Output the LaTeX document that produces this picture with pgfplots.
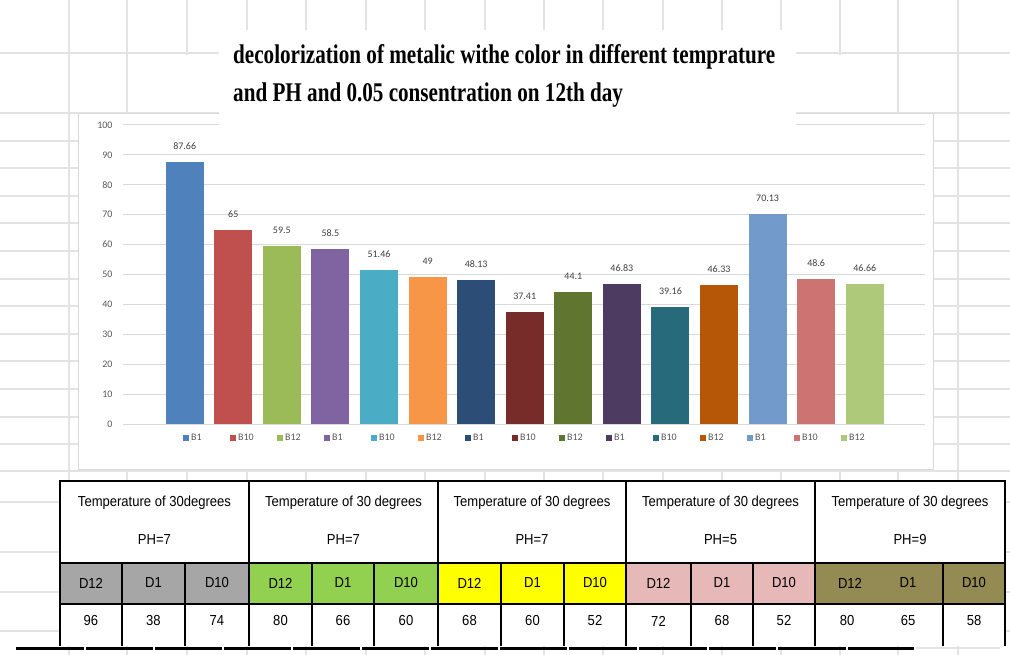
\documentclass[border=0pt]{standalone}
\usepackage{pgfplots}
\pgfplotsset{compat=1.18}
\usepackage{graphicx}
\usepackage{fontspec}
\setmainfont{Liberation Sans}
\newfontfamily\carlito{Carlito}
\newfontfamily\timesf{Liberation Serif}
\definecolor{c1}{HTML}{4F81BD}
\definecolor{c2}{HTML}{C0504D}
\definecolor{c3}{HTML}{9BBB59}
\definecolor{c4}{HTML}{8064A2}
\definecolor{c5}{HTML}{4BACC6}
\definecolor{c6}{HTML}{F79646}
\definecolor{c7}{HTML}{2C4D75}
\definecolor{c8}{HTML}{772C2A}
\definecolor{c9}{HTML}{5F7530}
\definecolor{c10}{HTML}{4D3B62}
\definecolor{c11}{HTML}{276A7C}
\definecolor{c12}{HTML}{B65708}
\definecolor{c13}{HTML}{729ACA}
\definecolor{c14}{HTML}{CD7371}
\definecolor{c15}{HTML}{AFC97A}
\definecolor{sheetgrid}{HTML}{E3E3E3}
\definecolor{gridc}{HTML}{D9D9D9}
\definecolor{tickc}{HTML}{595959}
\definecolor{labc}{HTML}{404040}
\definecolor{tgray}{HTML}{A6A6A6}
\definecolor{tgreen}{HTML}{92D050}
\definecolor{tyellow}{HTML}{FFFF00}
\definecolor{tpink}{HTML}{E6B8B7}
\definecolor{tolive}{HTML}{948A54}
\newcommand{\tf}[1]{\scalebox{0.9}[1]{\fontsize{14.5}{16}\selectfont #1}}
\begin{document}
\begin{tikzpicture}[x=1pt,y=-1pt]
\path[use as bounding box, fill=white] (0,0) rectangle (1010,655);
% spreadsheet grid
\foreach \x in {69,127,187,247,306,366,425,485,544,603,663,722,781,840,898,958}
  \draw[sheetgrid, line width=1.5pt] (\x,0) -- (\x,655);
\foreach \y in {53,113,141,168,196,223,251,279,306,334,361,389,417,444,471,502,552,592,631}
  \draw[sheetgrid, line width=1.5pt] (0,\y) -- (1010,\y);
\fill[white] (135,55) rectangle (220,112);
\fill[white] (795,55) rectangle (880,112);
% chart frame
\draw[gridc, fill=white, line width=1pt] (78,114) rectangle (933,469);
\begin{axis}[
  at={(123pt,-424pt)}, anchor=south west,
  scale only axis, width=802pt, height=299pt,
  xmin=-0.27, xmax=16.24, ymin=0, ymax=100,
  ytick={0,10,...,100}, xtick=\empty,
  ymajorgrids, grid style={gridc, line width=1pt},
  axis line style={draw=none}, major tick style={draw=none},
  ybar, bar width=38pt, bar shift=0pt,
  nodes near coords,
  every node near coord/.append style={font=\carlito\fontsize{10}{12}\selectfont, text=labc, yshift=9pt},
  /pgf/number format/assume math mode=true,
  yticklabel style={font=\carlito\fontsize{10}{12}\selectfont, text=tickc, xshift=-7pt},
  legend columns=15,
  legend style={at={(0.504,-0.047)}, anchor=center, draw=none, fill=none,
    font=\carlito\fontsize{10}{12}\selectfont, text=tickc,
    /tikz/every even column/.append style={column sep=17pt},
    nodes={text width=20pt, align=left, inner sep=2pt}},
  legend image code/.code={\path[#1,draw=none] (0pt,-3pt) rectangle (6pt,3pt);},
]
\addplot[fill=c1,draw=none] coordinates {(1,87.66)};
\addplot[fill=c2,draw=none] coordinates {(2,65)};
\addplot[fill=c3,draw=none] coordinates {(3,59.5)};
\addplot[fill=c4,draw=none] coordinates {(4,58.5)};
\addplot[fill=c5,draw=none] coordinates {(5,51.46)};
\addplot[fill=c6,draw=none] coordinates {(6,49)};
\addplot[fill=c7,draw=none] coordinates {(7,48.13)};
\addplot[fill=c8,draw=none] coordinates {(8,37.41)};
\addplot[fill=c9,draw=none] coordinates {(9,44.1)};
\addplot[fill=c10,draw=none] coordinates {(10,46.83)};
\addplot[fill=c11,draw=none] coordinates {(11,39.16)};
\addplot[fill=c12,draw=none] coordinates {(12,46.33)};
\addplot[fill=c13,draw=none] coordinates {(13,70.13)};
\addplot[fill=c14,draw=none] coordinates {(14,48.6)};
\addplot[fill=c15,draw=none] coordinates {(15,46.66)};
\legend{B1,B10,B12,B1,B10,B12,B1,B10,B12,B1,B10,B12,B1,B10,B12}
\end{axis}
% title box
\fill[white] (219,30) rectangle (796,128);
\node[anchor=base west, inner sep=0pt, font=\timesf\bfseries] at (233,64)
  {\resizebox{542pt}{\height}{\fontsize{27}{38}\selectfont\begin{tabular}[t]{@{}l@{}}decolorization of metalic withe color in different temprature\\and PH and 0.05 consentration on 12th day\end{tabular}}};
% table
\fill[white] (60,481) rectangle (1005,646);
\fill[tgray] (60,563) rectangle (249,604);
\fill[tgreen] (249,563) rectangle (438,604);
\fill[tyellow] (438,563) rectangle (626,604);
\fill[tpink] (626,563) rectangle (815,604);
\fill[tolive] (815,563) rectangle (1005,604);
\draw[black, line width=1.6pt] (59,481) -- (1006,481);
\draw[black, line width=1.3pt] (60,563) -- (1005,563);
\draw[black, line width=1.3pt] (60,604) -- (1005,604);
\foreach \x in {60,249,438,626,815,1005}
  \draw[black, line width=1.4pt] (\x,481) -- (\x,646);
\foreach \x in {122,185,312,374,501,564,691,753,943}
  \draw[black, line width=1.2pt] (\x,563) -- (\x,646);
\foreach \a/\b in {15/85,85/154,154/223,223/292,292/361,361/430,430/499,499/568,568/638,638/708,708/777,777/847,847/915}
  \draw[black, line width=3pt] (\a+1,648) -- (\b-1,648);
\draw[sheetgrid, line width=2pt] (916,648) -- (1000,648);
% header text
\node at (154.5,503) {\tf{Temperature of 30degrees}};
\node at (343.5,503) {\tf{Temperature of 30 degrees}};
\node at (532,503) {\tf{Temperature of 30 degrees}};
\node at (720.5,503) {\tf{Temperature of 30 degrees}};
\node at (910,503) {\tf{Temperature of 30 degrees}};
\node at (154.5,540) {\tf{PH=7}};
\node at (343.5,540) {\tf{PH=7}};
\node at (532,540) {\tf{PH=7}};
\node at (720.5,540) {\tf{PH=5}};
\node at (910,540) {\tf{PH=9}};
% D row
\foreach \x/\t in {91/D12,153.5/D1,217/D10,280.5/D12,343/D1,406/D10,469.5/D12,532.5/D1,595/D10,658.5/D12,722/D1,784/D10,850/D12,908/D1,974/D10}
  \node at (\x,583) {\tf{\t}};
% values
\foreach \x/\t in {91/96,153.5/38,217/74,280.5/80,343/66,406/60,469.5/68,532.5/60,595/52,658.5/72,722/68,784/52,847/80,908/65,974/58}
  \node at (\x,621) {\tf{\t}};
\end{tikzpicture}
\end{document}
